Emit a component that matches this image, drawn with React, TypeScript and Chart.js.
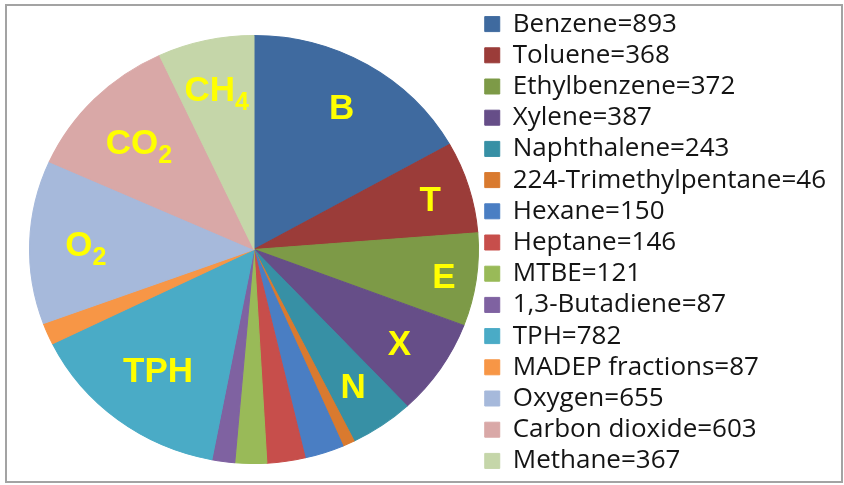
import React, { useEffect, useRef } from "react";
import { Chart, registerables } from "chart.js";

Chart.register(...registerables);

const categories = [
  "Benzene",
  "Toluene",
  "Ethylbenzene",
  "Xylene",
  "Naphthalene",
  "224-Trimethylpentane",
  "Hexane",
  "Heptane",
  "MTBE",
  "1,3-Butadiene",
  "TPH",
  "MADEP fractions",
  "Oxygen",
  "Carbon dioxide",
  "Methane",
];
const values = [893, 368, 372, 387, 243, 46, 150, 146, 121, 87, 782, 87, 655, 603, 367];
const sliceTags = ["B", "T", "E", "X", "N", "", "", "", "", "", "TPH", "", "O", "CO", "CH"];
const sliceTagSubs = ["", "", "", "", "", "", "", "", "", "", "", "", "2", "2", "4"];

const sliceColors = [
  "#3F6A9F",
  "#9B3C39",
  "#7D9A47",
  "#664E88",
  "#3790A5",
  "#D97A2F",
  "#4A7EC3",
  "#C74E4B",
  "#99BA58",
  "#7F62A1",
  "#4AABC6",
  "#F79646",
  "#A6B9DB",
  "#D9A8A7",
  "#C5D6A9",
];
// radial position of the in-slice tags, as a fraction of the radius
const labelRadius = [0.775, 0.82, 0.855, 0.78, 0.776, 0, 0, 0, 0, 0, 0.705, 0, 0.75, 0.72, 0.77];

const SX = 1.049; // the reference pie is slightly stretched horizontally
const PIE_AREA = { left: 29, right: 479, top: 35, bottom: 464 };
const LABEL_FONT = '"Liberation Sans", Arial, sans-serif';

const pieLayoutPlugin = {
  id: "pieLayout",
  afterLayout(chart: any) {
    const ca = chart.chartArea;
    ca.left = PIE_AREA.left;
    ca.right = PIE_AREA.right;
    ca.top = PIE_AREA.top;
    ca.bottom = PIE_AREA.bottom;
    ca.width = PIE_AREA.right - PIE_AREA.left;
    ca.height = PIE_AREA.bottom - PIE_AREA.top;
  },
};

const ellipsePlugin = {
  id: "ellipse",
  beforeDatasetsDraw(chart: any) {
    const el = chart.getDatasetMeta(0).data[0];
    const ctx = chart.ctx;
    ctx.save();
    ctx.translate(el.x, el.y);
    ctx.scale(SX, 1);
    ctx.translate(-el.x, -el.y);
  },
  afterDatasetsDraw(chart: any) {
    const ctx = chart.ctx;
    ctx.restore();
    const meta = chart.getDatasetMeta(0);
    ctx.save();
    meta.data.forEach((arc: any, i: number) => {
      const tag = sliceTags[i];
      if (!tag) return;
      const { x, y, startAngle, endAngle, outerRadius } = arc.getProps(
        ["x", "y", "startAngle", "endAngle", "outerRadius"],
        true
      );
      const mid = (startAngle + endAngle) / 2;
      const r = outerRadius * labelRadius[i];
      const lx = x + SX * r * Math.cos(mid);
      const ly = y + r * Math.sin(mid);
      const mainFont = `bold 35px ${LABEL_FONT}`;
      const subFont = `bold 25px ${LABEL_FONT}`;
      ctx.font = mainFont;
      const w1 = ctx.measureText(tag).width;
      const sub = sliceTagSubs[i];
      ctx.font = subFont;
      const w2 = sub ? ctx.measureText(sub).width : 0;
      const x0 = lx - (w1 + w2) / 2;
      const base = ly + 12.5;
      ctx.fillStyle = "#FFFF00";
      ctx.textAlign = "left";
      ctx.textBaseline = "alphabetic";
      ctx.font = mainFont;
      ctx.fillText(tag, x0, base);
      if (sub) {
        ctx.font = subFont;
        ctx.fillText(sub, x0 + w1, base + 9);
      }
    });
    ctx.restore();
  },
};

export default function App() {
  const canvasRef = useRef<HTMLCanvasElement | null>(null);

  useEffect(() => {
    const canvas = canvasRef.current;
    if (!canvas) return;
    const chart = new Chart(canvas, {
      type: "pie",
      data: {
        labels: categories.map((c, i) => `${c}=${values[i]}`),
        datasets: [
          {
            data: values,
            backgroundColor: sliceColors,
            borderColor: sliceColors,
            borderWidth: 1,
            clip: false as any,
          },
        ],
      },
      options: {
        responsive: false,
        animation: false,
        devicePixelRatio: 1,
        layout: { padding: { left: 0, right: 8, top: 2, bottom: 2 } },
        plugins: {
          tooltip: { enabled: false },
          legend: {
            position: "right",
            align: "center",
            labels: {
              boxWidth: 15,
              boxHeight: 15,
              padding: 5.2,
              color: "#141414",
              font: { family: '"Open Sans", sans-serif', size: 26 },
            },
          },
        },
      },
      plugins: [pieLayoutPlugin, ellipsePlugin],
    });
    return () => chart.destroy();
  }, []);

  return (
    <div
      style={{
        position: "fixed",
        left: 0,
        top: 0,
        width: 844,
        height: 485,
        background: "#ffffff",
      }}
    >
      <div
        style={{
          position: "absolute",
          left: 5,
          top: 4,
          width: 838,
          height: 479,
          boxSizing: "border-box",
          border: "2px solid #a3a3a3",
        }}
      />
      <canvas
        ref={canvasRef}
        width={844}
        height={485}
        style={{ position: "absolute", left: 0, top: 0, width: 844, height: 485 }}
      />
    </div>
  );
}
